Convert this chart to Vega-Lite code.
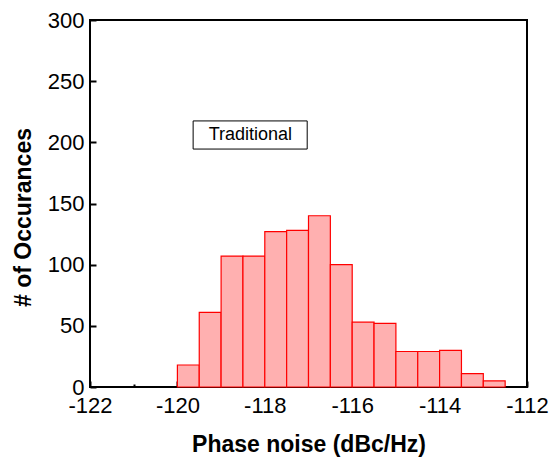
{
  "$schema": "https://vega.github.io/schema/vega-lite/v6.json",
  "autosize": "none",
  "width": 437,
  "height": 367,
  "padding": {"left": 90, "top": 20, "right": 25, "bottom": 73},
  "background": "white",
  "config": {
    "view": {"stroke": "black", "strokeWidth": 2},
    "font": "Liberation Sans"
  },
  "datasets": {
    "bins": [
      {"bin_start": -120.0, "bin_end": -119.5, "count": 18},
      {"bin_start": -119.5, "bin_end": -119.0, "count": 61},
      {"bin_start": -119.0, "bin_end": -118.5, "count": 107},
      {"bin_start": -118.5, "bin_end": -118.0, "count": 107},
      {"bin_start": -118.0, "bin_end": -117.5, "count": 127},
      {"bin_start": -117.5, "bin_end": -117.0, "count": 128},
      {"bin_start": -117.0, "bin_end": -116.5, "count": 140},
      {"bin_start": -116.5, "bin_end": -116.0, "count": 100},
      {"bin_start": -116.0, "bin_end": -115.5, "count": 53},
      {"bin_start": -115.5, "bin_end": -115.0, "count": 52},
      {"bin_start": -115.0, "bin_end": -114.5, "count": 29},
      {"bin_start": -114.5, "bin_end": -114.0, "count": 29},
      {"bin_start": -114.0, "bin_end": -113.5, "count": 30},
      {"bin_start": -113.5, "bin_end": -113.0, "count": 11},
      {"bin_start": -113.0, "bin_end": -112.5, "count": 5}
    ],
    "legend": [
      {"x0": -119.64, "x1": -117.03, "y0": 194.5, "y1": 217.5, "xc": -118.33, "yc": 206, "label": "Traditional"}
    ]
  },
  "layer": [
    {
      "data": {"name": "bins"},
      "mark": {"type": "rect", "fill": "#ffb0b0", "stroke": "#ff0000", "strokeWidth": 1.2},
      "encoding": {
        "x": {
          "field": "bin_start",
          "type": "quantitative",
          "scale": {"domain": [-122, -112], "nice": false, "zero": false},
          "axis": {
            "title": "Phase noise (dBc/Hz)",
            "titleFontSize": 23,
            "titleFontWeight": "bold",
            "titleColor": "black",
            "titlePadding": 14,
            "values": [-122, -121, -120, -119, -118, -117, -116, -115, -114, -113, -112],
            "labelExpr": "datum.value % 2 === 0 ? '' + datum.value : ''",
            "labelOverlap": false,
            "labelFlush": false,
            "labelFontSize": 22,
            "labelColor": "black",
            "labelPadding": 14,
            "domain": false,
            "grid": false,
            "tickColor": "black",
            "tickWidth": 2,
            "tickSize": {"condition": {"test": "datum.value % 2 === 0", "value": -6}, "value": -3}
          }
        },
        "x2": {"field": "bin_end"},
        "y": {
          "field": "count",
          "type": "quantitative",
          "scale": {"domain": [0, 300], "nice": false},
          "axis": {
            "title": "# of Occurances",
            "titleFontSize": 23,
            "titleFontWeight": "bold",
            "titleColor": "black",
            "titlePadding": 12,
            "titleY": 197,
            "values": [0, 25, 50, 75, 100, 125, 150, 175, 200, 225, 250, 275, 300],
            "labelExpr": "datum.value % 50 === 0 ? '' + datum.value : ''",
            "labelOverlap": false,
            "labelFlush": false,
            "labelFontSize": 22,
            "labelColor": "black",
            "labelPadding": 12,
            "domain": false,
            "grid": false,
            "tickColor": "black",
            "tickWidth": 2,
            "tickSize": {"condition": {"test": "datum.value % 50 === 0", "value": -6}, "value": -3}
          }
        },
        "y2": {"datum": 0}
      }
    },
    {
      "data": {"name": "legend"},
      "mark": {"type": "rect", "fill": "white", "stroke": "black", "strokeWidth": 1},
      "encoding": {
        "x": {"field": "x0", "type": "quantitative"},
        "x2": {"field": "x1"},
        "y": {"field": "y0", "type": "quantitative"},
        "y2": {"field": "y1"}
      }
    },
    {
      "data": {"name": "legend"},
      "mark": {"type": "text", "fontSize": 18, "color": "black", "align": "center", "baseline": "middle"},
      "encoding": {
        "x": {"field": "xc", "type": "quantitative"},
        "y": {"field": "yc", "type": "quantitative"},
        "text": {"field": "label"}
      }
    }
  ]
}
